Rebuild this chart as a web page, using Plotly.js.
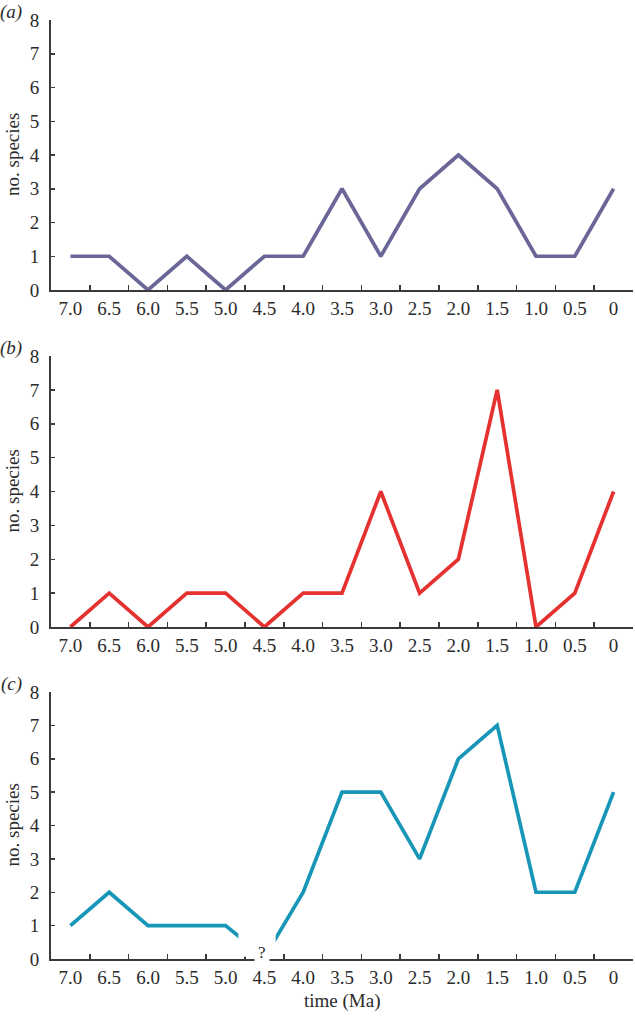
<!DOCTYPE html>
<html>
<head>
<meta charset="utf-8">
<script src="https://cdn.plot.ly/plotly-3.0.1.min.js"></script>
<style>html,body{margin:0;padding:0;background:#fff;}#chart{width:635px;height:1018px;}</style>
</head>
<body>
<div id="chart"></div>
<script>
// time bins (Ma)
const timeLabels = ['7.0','6.5','6.0','5.5','5.0','4.5','4.0','3.5','3.0','2.5','2.0','1.5','1.0','0.5','0'];
// no. species per panel
const speciesA = [1,1,0,1,0,1,1,3,1,3,4,3,1,1,3];
const speciesB = [0,1,0,1,1,0,1,1,4,1,2,7,0,1,4];
// panel (c): value at 4.5 Ma is uncertain ("?"), estimated and hidden behind the mark
const speciesC = [1,2,1,1,1,0.05,2,5,5,3,6,7,2,2,5];
const yTicks = [0,1,2,3,4,5,6,7,8];
const panelLabels = ['(a)','(b)','(c)'];
const colors = ['#6a6697','#e5312f','#1896b8'];

const font = {family: 'Liberation Serif, Times New Roman, serif', size: 19, color: '#2b2b2b'};
const axisColor = '#3a3a3a';

function xax(anchor){
  return {
    type: 'category', anchor: anchor, range: [-0.5, 14.5],
    categoryorder: 'array', categoryarray: timeLabels,
    showline: true, linecolor: axisColor, linewidth: 2,
    ticks: 'inside', tickson: 'boundaries', ticklen: 5, tickwidth: 1.5, tickcolor: axisColor,
    ticklabelstandoff: 0,
    showgrid: false, zeroline: false, tickfont: font, automargin: false, fixedrange: true
  };
}
function yax(anchor, dom){
  return {
    anchor: anchor, domain: dom, range: [0, 8],
    tickvals: yTicks, ticktext: yTicks.map(String),
    showline: true, linecolor: axisColor, linewidth: 2,
    ticks: 'inside', ticklen: 4, tickwidth: 1.5, tickcolor: axisColor,
    ticklabelstandoff: 6,
    showgrid: false, zeroline: false, tickfont: font, automargin: false, fixedrange: true
  };
}

const H = 1018;
const doms = [[1-290/H, 1-20/H],[1-627/H, 1-356/H],[1-959/H, 1-692/H]];
const series = [speciesA, speciesB, speciesC];
const traces = series.map((s,i)=>({
  x: timeLabels, y: s, type: 'scatter', mode: 'lines',
  xaxis: i===0?'x':'x'+(i+1), yaxis: i===0?'y':'y'+(i+1),
  line: {color: colors[i], width: 3.7}, hoverinfo: 'skip'
}));

const annotations = [];
panelLabels.forEach((t,i)=>{
  const yr = i===0?'y':'y'+(i+1);
  annotations.push({text: t, xref: 'paper', yref: yr+' domain', x: 0, y: 1,
    xanchor: 'center', yanchor: 'middle', xshift: -40, yshift: 8, showarrow: false,
    font: Object.assign({}, font, {style: 'italic'})});
  annotations.push({text: 'no. species', xref: 'paper', yref: yr+' domain', x: 0, y: 0.5,
    xanchor: 'center', yanchor: 'middle', xshift: -39, textangle: -90, showarrow: false,
    font: Object.assign({}, font, {size: 19})});
});
annotations.push({text: 'time (Ma)', xref: 'paper', yref: 'y3 domain', x: 0.5, y: 0,
  xanchor: 'center', yanchor: 'middle', yshift: -42, showarrow: false,
  font: Object.assign({}, font, {size: 19})});
annotations.push({text: '?', xref: 'x3', yref: 'y3', x: 4.95, y: 0,
  xanchor: 'center', yanchor: 'middle', yshift: 7, showarrow: false,
  bgcolor: '#ffffff', borderpad: 3, font: Object.assign({}, font, {size: 17})});

const layout = {
  width: 635, height: 1018, showlegend: false,
  margin: {l: 51, r: 2, t: 0, b: 0},
  paper_bgcolor: '#ffffff', plot_bgcolor: '#ffffff', font: font,
  xaxis: xax('y'), yaxis: yax('x', doms[0]),
  xaxis2: xax('y2'), yaxis2: yax('x2', doms[1]),
  xaxis3: xax('y3'), yaxis3: yax('x3', doms[2]),
  shapes: [{type: 'rect', xref: 'x3', yref: 'y3', x0: 4.33, x1: 5.29, y0: 0.07, y1: 1.0,
    fillcolor: '#ffffff', line: {width: 0}, layer: 'above'}],
  annotations: annotations
};

Plotly.newPlot('chart', traces, layout, {staticPlot: true, displayModeBar: false});
</script>
</body>
</html>
